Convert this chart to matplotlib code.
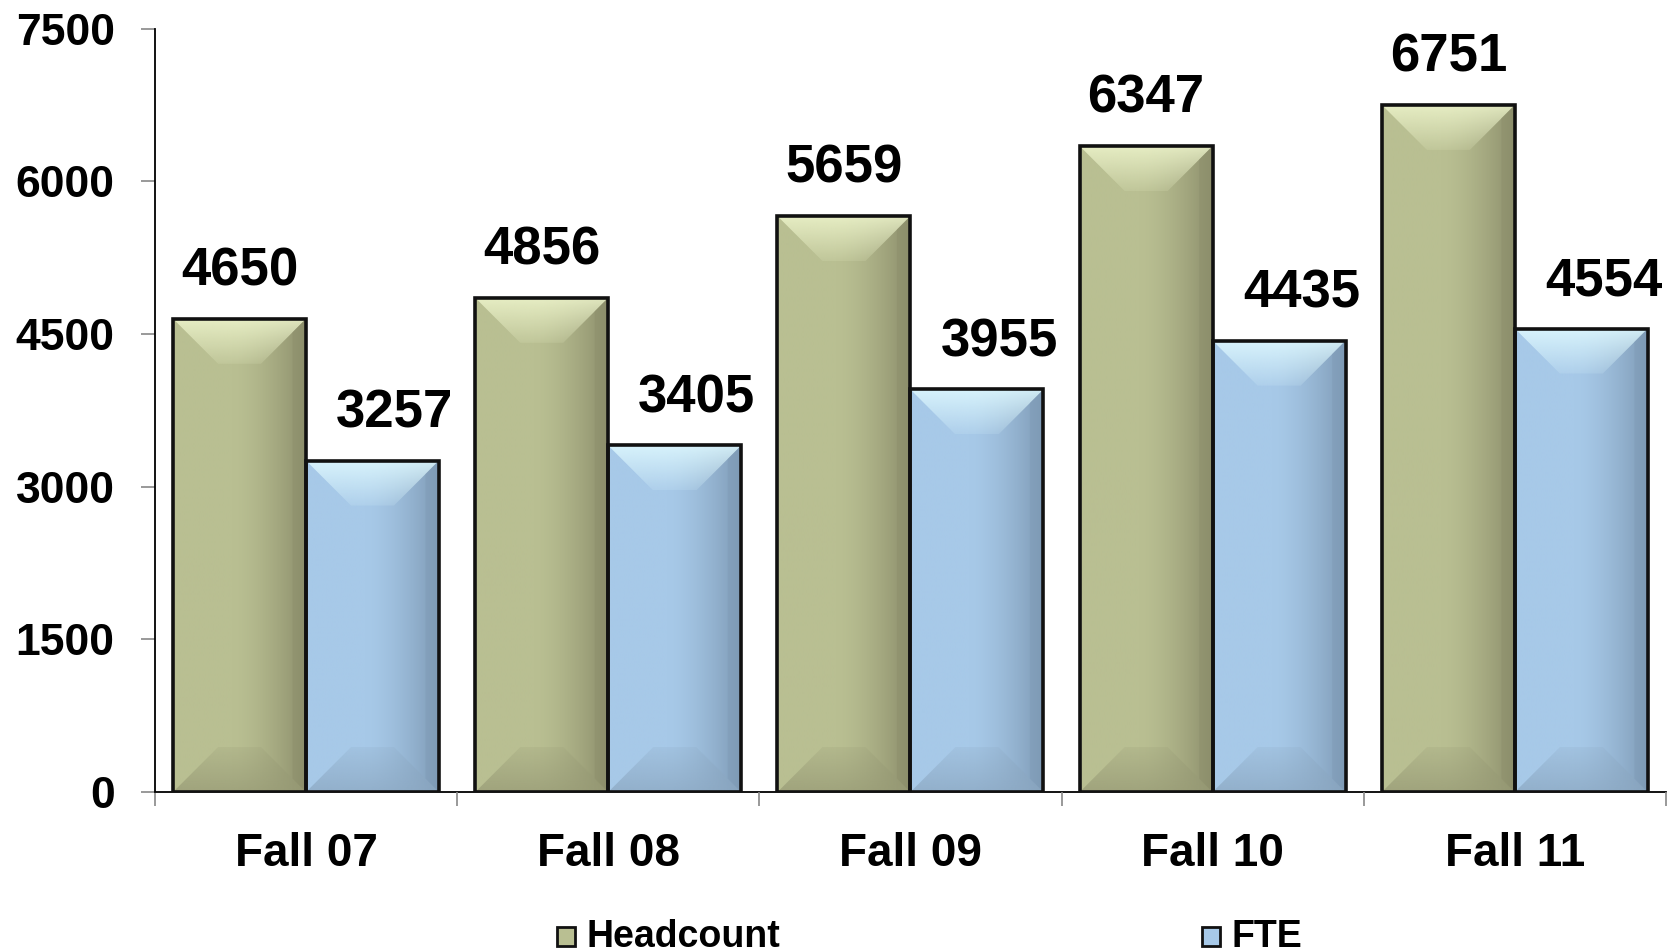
import numpy as np
import matplotlib.pyplot as plt
from matplotlib.patches import Rectangle, Polygon
from matplotlib.colors import to_rgb

plt.rcParams['font.family'] = ['Liberation Sans', 'DejaVu Sans']
plt.rcParams['font.weight'] = 'bold'

# dados
categorias = ['Fall 07', 'Fall 08', 'Fall 09', 'Fall 10', 'Fall 11']
headcount = [4650, 4856, 5659, 6347, 6751]
fte = [3257, 3405, 3955, 4435, 4554]
series = ['Headcount', 'FTE']
yticks = [0, 1500, 3000, 4500, 6000, 7500]

# cores: (claro esquerda, escuro direita, bisel topo, bisel base)
cores = {
    'Headcount': ('#b9bf92', '#8d8f6c', '#eef5cc', '#989b76'),
    'FTE': ('#a7c9e8', '#7f9bb6', '#e0faff', '#8ca8c2'),
}

largura = 0.44
bevel_px = 45

fig = plt.figure(figsize=(16.73, 9.52), dpi=100)
ax = fig.add_axes([0.0926, 0.168, 0.9032, 0.8019])
ax.set_xlim(-0.5, 4.5)
ax.set_ylim(0, 7500)

# conversao px -> dados
px_x = (4.5 - (-0.5)) / (0.9032 * 1673)
px_y = 7500 / (0.8019 * 952)
bx = bevel_px * px_x
by = bevel_px * px_y


def gradiente_v(c, a_topo, a_base, n=32):
    # imagem RGBA com alpha variando na vertical
    rgb = np.array(to_rgb(c))
    a = np.linspace(a_topo, a_base, n)
    img = np.zeros((n, 1, 4))
    img[:, 0, :3] = rgb
    img[:, 0, 3] = a
    return img


def barra(x0, h, nome):
    c_l, c_d, c_top, c_bot = cores[nome]
    x1 = x0 + largura
    # gradiente horizontal
    n = 64
    t = np.linspace(0, 1, n)
    cl, cd = np.array(to_rgb(c_l)), np.array(to_rgb(c_d))
    prof = np.clip((t - 0.45) / 0.55, 0, 1) ** 1.5
    grad = cl[None, :] * (1 - prof[:, None]) + cd[None, :] * prof[:, None]
    rect = Rectangle((x0, 0), largura, h, facecolor='none', edgecolor='none')
    ax.add_patch(rect)
    im = ax.imshow(grad[None, :, :], extent=[x0, x1, 0, h], aspect='auto', zorder=2,
                   interpolation='bilinear')
    im.set_clip_path(rect)
    # bisel topo (mais claro, some para baixo)
    top = Polygon([(x0, h), (x1, h), (x1 - bx, h - by), (x0 + bx, h - by)],
                  closed=True, facecolor='none', edgecolor='none')
    ax.add_patch(top)
    im2 = ax.imshow(gradiente_v(c_top, 0.85, 0.15), extent=[x0, x1, h - by, h],
                    aspect='auto', zorder=3, interpolation='bilinear')
    im2.set_clip_path(top)
    # bisel base (mais escuro)
    bot = Polygon([(x0, 0), (x1, 0), (x1 - bx, by), (x0 + bx, by)],
                  closed=True, facecolor='none', edgecolor='none')
    ax.add_patch(bot)
    im3 = ax.imshow(gradiente_v(c_bot, 0.2, 0.75), extent=[x0, x1, 0, by],
                    aspect='auto', zorder=3, interpolation='bilinear')
    im3.set_clip_path(bot)
    # lateral direita mais escura
    dir_ = Polygon([(x1, 0), (x1, h), (x1 - bx * 0.3, h - by * 0.3), (x1 - bx * 0.3, by * 0.3)],
                   closed=True, facecolor=c_d, edgecolor='none', alpha=0.5, zorder=3)
    ax.add_patch(dir_)
    borda = Rectangle((x0, 0), largura, h, facecolor='none', edgecolor='#111111',
                      linewidth=2.6, zorder=4)
    ax.add_patch(borda)


x = np.arange(len(categorias))
for i in range(len(categorias)):
    barra(x[i] - largura, headcount[i], 'Headcount')
    barra(x[i], fte[i], 'FTE')
    ax.annotate(str(headcount[i]), (x[i] - largura / 2, headcount[i]),
                xytext=(0, 16), textcoords='offset points', ha='center', va='bottom',
                fontsize=38, fontweight='bold', zorder=5)
    ax.annotate(str(fte[i]), (x[i] + largura / 2, fte[i]),
                xytext=(16, 16), textcoords='offset points', ha='center', va='bottom',
                fontsize=38, fontweight='bold', zorder=5)

# eixos
ax.set_yticks(yticks)
ax.set_yticklabels([str(v) for v in yticks], fontsize=32, fontweight='bold')
ax.set_xticks(x)
ax.set_xticklabels(categorias, fontsize=33, fontweight='bold')
ax.set_xticks(np.arange(-0.5, 5.0, 1.0), minor=True)
ax.tick_params(axis='x', which='major', length=0, pad=29)
ax.tick_params(axis='x', which='minor', length=10, color='#888888', width=1.2)
ax.tick_params(axis='y', length=10, color='#888888', width=1.2, pad=19)
for s in ['top', 'right']:
    ax.spines[s].set_visible(False)
ax.spines['left'].set_linewidth(1.3)
ax.spines['bottom'].set_linewidth(1.3)
ax.spines['bottom'].set_zorder(1)

# legenda manual
leg_x = [0.333, 0.7185]
leg_y = 0.006
for nome, lx in zip(series, leg_x):
    c_l, c_d, c_top, c_bot = cores[nome]
    fig.patches.append(Rectangle((lx, leg_y), 0.0105, 0.02, transform=fig.transFigure,
                                 facecolor=c_l, edgecolor='#111111', linewidth=2))
    fig.text(lx + 0.0175, leg_y + 0.01, nome, fontsize=27, fontweight='bold',
             va='center', ha='left')

fig.savefig('out.png', dpi=100)
